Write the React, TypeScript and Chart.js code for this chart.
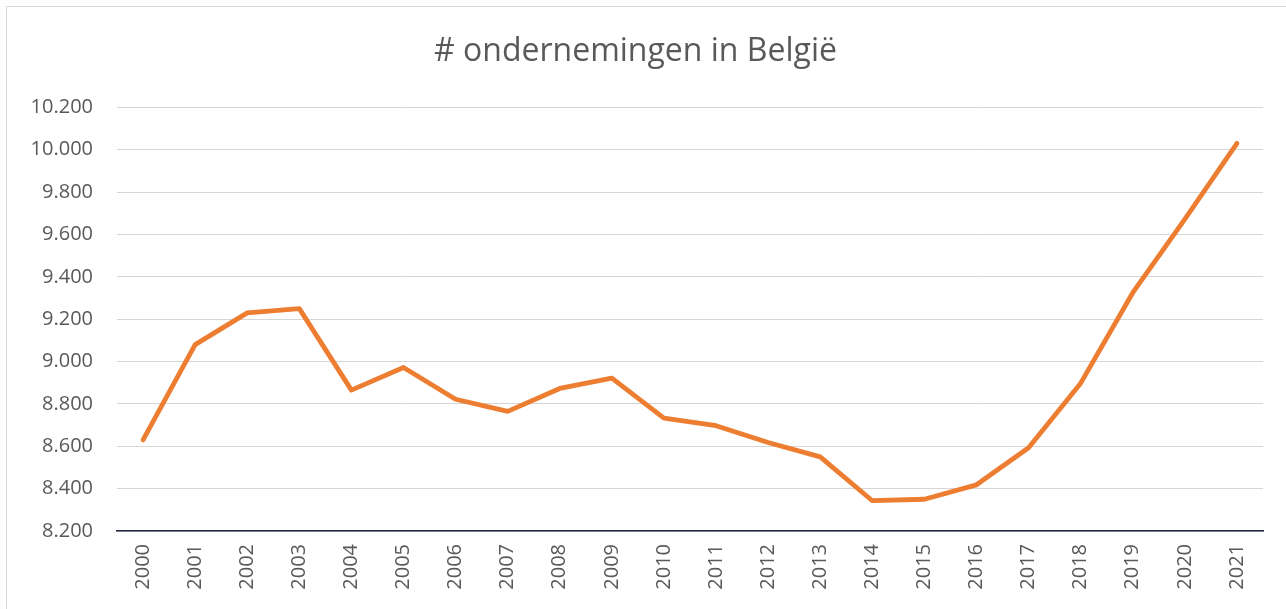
import React, { useEffect, useRef } from "react";
import { Chart, registerables } from "chart.js";

Chart.register(...registerables);

const years: string[] = [
  "2000", "2001", "2002", "2003", "2004", "2005", "2006", "2007", "2008", "2009", "2010",
  "2011", "2012", "2013", "2014", "2015", "2016", "2017", "2018", "2019", "2020", "2021",
];

const ondernemingen: number[] = [
  8630, 9080, 9230, 9250, 8865, 8972, 8822, 8765, 8873, 8922, 8733,
  8697, 8618, 8550, 8343, 8350, 8418, 8593, 8898, 9325, 9672, 10030,
];

const yMin = 8200;
const yMax = 10200;
const yStep = 200;

const titleText = "# ondernemingen in België";

function formatNL(v: number): string {
  const s = Math.round(v).toString();
  return s.replace(/\B(?=(\d{3})+(?!\d))/g, ".");
}

export default function App() {
  const canvasRef = useRef<HTMLCanvasElement | null>(null);

  useEffect(() => {
    if (!canvasRef.current) return;
    const chart = new Chart(canvasRef.current, {
      type: "line",
      data: {
        labels: years,
        datasets: [
          {
            label: "ondernemingen",
            data: ondernemingen,
            borderColor: "#ED7D31",
            backgroundColor: "#ED7D31",
            borderWidth: 4.8,
            pointRadius: 0,
            tension: 0,
            borderJoinStyle: "round",
            borderCapStyle: "round",
          },
        ],
      },
      options: {
        animation: false,
        responsive: false,
        maintainAspectRatio: false,
        layout: { padding: { left: 8, right: 23, top: 0, bottom: 0 } },
        plugins: {
          legend: { display: false },
          tooltip: { enabled: false },
          title: {
            display: true,
            text: titleText,
            color: "#595959",
            font: { family: "'Open Sans'", size: 32, weight: "normal" },
            padding: { top: 33, bottom: 36 },
          },
        },
        scales: {
          x: {
            offset: true,
            grid: { display: false, drawTicks: false },
            border: { display: true, color: "#1c2540", width: 1.5 },
            ticks: {
              autoSkip: false,
              maxRotation: 90,
              minRotation: 90,
              padding: 13,
              color: "#595959",
              font: { family: "'Open Sans'", size: 20 },
            },
            afterFit: (scale: any) => {
              scale.height = 78;
            },
          },
          y: {
            min: yMin,
            max: yMax,
            grid: { color: "#d6d6d6", lineWidth: 1, drawTicks: false },
            border: { display: false },
            ticks: {
              stepSize: yStep,
              padding: 24,
              color: "#595959",
              font: { family: "'Open Sans'", size: 20 },
              callback: (v: any) => formatNL(Number(v)),
            },
            afterFit: (scale: any) => {
              scale.width = 109;
            },
          },
        },
      },
    });
    return () => chart.destroy();
  }, []);

  return (
    <div style={{ position: "fixed", left: 0, top: 0, width: 1286, height: 609, background: "#fff", overflow: "hidden" }}>
      <div
        style={{
          position: "absolute",
          left: 6,
          top: 6,
          width: 1300,
          height: 700,
          borderLeft: "1px solid #d9d9d9",
          borderTop: "1px solid #d9d9d9",
          boxSizing: "border-box",
        }}
      />
      <canvas ref={canvasRef} width={1286} height={609} style={{ position: "absolute", left: 0, top: 0 }} />
    </div>
  );
}
